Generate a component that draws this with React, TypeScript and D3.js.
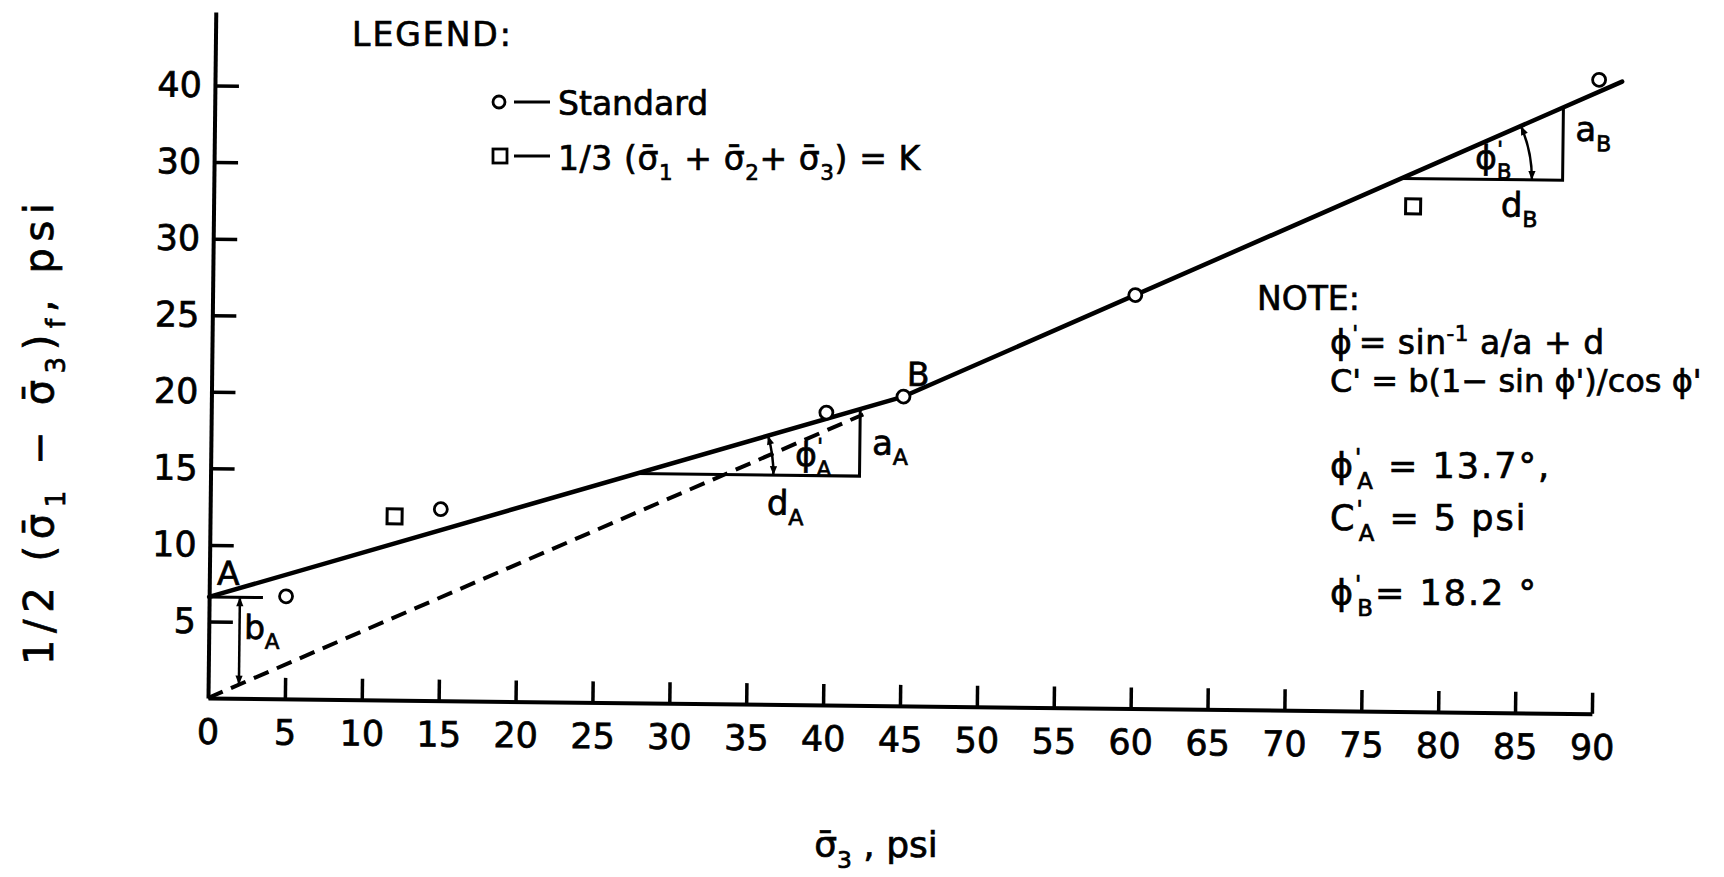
import { useEffect, useRef } from "react"
import * as d3 from "d3"

// axis ticks (the scan labels the 35 tick "30")
const xTicks = [0, 5, 10, 15, 20, 25, 30, 35, 40, 45, 50, 55, 60, 65, 70, 75, 80, 85, 90]
const yTicks = [5, 10, 15, 20, 25, 30, 35, 40]
const yTickLabels = ["5", "10", "15", "20", "25", "30", "30", "40"]

// test points
const standardX = [5, 15, 40, 45, 60, 90]
const standardY = [6.7, 12.5, 19.1, 20.2, 27, 41.4]
const constKX = [12, 78]
const constKY = [12, 33]

// failure envelopes
const envelopeAX = [0, 45]
const envelopeAY = [6.6, 20.2]
const envelopeBX = [45, 91.5]
const envelopeBY = [20.2, 41.3]
const dashedX = [0, 42.4]
const dashedY = [0, 19.0]

// construction triangles (x of left / right corner) and arc radius, in psi
const triangleA = [27.7, 42.2]
const triangleB = [77.2, 87.7]
const arcRadius = [8.9, 8.5]
const bArrowX = 2
const bLineEnd = 3.5

type Part = { t: string; sub?: boolean; sup?: boolean; dx?: number }

function richText(sel: any, parts: Part[], size: number) {
  let shift = 0
  parts.forEach((p) => {
    const target = p.sub ? size * 0.3 : p.sup ? -size * 0.38 : 0
    const ts = sel
      .append("tspan")
      .attr("dy", target - shift)
      .attr("font-size", p.sub || p.sup ? size * 0.65 : size)
      .text(p.t)
    if (p.dx) ts.attr("dx", p.dx)
    shift = target
  })
}

export default function App() {
  const svgRef = useRef<SVGSVGElement>(null)

  useEffect(() => {
    if (!svgRef.current) return
    const svg = d3.select(svgRef.current)
    svg.selectAll("*").remove()

    const width = 1724
    const height = 877
    const font = "'DejaVu Sans', sans-serif"

    const x = d3.scaleLinear().domain([0, 90]).range([208, 1592])
    const y = d3.scaleLinear().domain([0, 44.8]).range([698, 12])

    svg.append("style").text("text{fill:#000;stroke:#000;stroke-width:0.7px;}")
    svg.append("rect").attr("width", width).attr("height", height).attr("fill", "#fff")

    const defs = svg.append("defs")
    defs
      .append("marker")
      .attr("id", "arrow")
      .attr("viewBox", "0 -5 10 10")
      .attr("refX", 10)
      .attr("refY", 0)
      .attr("markerWidth", 11)
      .attr("markerHeight", 9)
      .attr("markerUnits", "userSpaceOnUse")
      .attr("orient", "auto-start-reverse")
      .append("path")
      .attr("d", "M0,-4L10,0L0,4Z")
      .attr("fill", "#000")

    // the scanned plot is slightly skewed
    const g = svg
      .append("g")
      .attr("transform", `rotate(0.65, ${x(0)}, ${y(0)})`)

    // axes
    const yAxis = g
      .append("g")
      .attr("transform", `translate(${x(0)},0)`)
      .call(
        d3
          .axisLeft(y)
          .tickValues(yTicks)
          .tickFormat((d, i) => yTickLabels[i])
          .tickSizeInner(-24)
          .tickSizeOuter(0)
          .tickPadding(13),
      )
    yAxis.attr("font-size", 35).attr("font-family", font)
    yAxis.select(".domain").attr("stroke-width", 4).attr("stroke", "#000")
    yAxis.selectAll(".tick line").attr("stroke-width", 3.5).attr("stroke", "#000")

    const xAxis = g
      .append("g")
      .attr("transform", `translate(0,${y(0)})`)
      .call(
        d3
          .axisBottom(x)
          .tickValues(xTicks)
          .tickFormat((d) => String(d))
          .tickSizeInner(-21)
          .tickSizeOuter(0)
          .tickPadding(21),
      )
    xAxis.attr("font-size", 35).attr("font-family", font)
    xAxis.select(".domain").attr("stroke-width", 4).attr("stroke", "#000")
    xAxis.selectAll(".tick line").attr("stroke-width", 3.5).attr("stroke", "#000")
    xAxis.selectAll(".tick").filter((d) => d === 0).select("line").remove()

    const line = d3
      .line<[number, number]>()
      .x((d) => x(d[0]))
      .y((d) => y(d[1]))

    const lineA = d3.scaleLinear().domain(envelopeAX).range(envelopeAY)
    const lineB = d3.scaleLinear().domain(envelopeBX).range(envelopeBY)
    const dashed = d3.scaleLinear().domain(dashedX).range(dashedY)

    // dashed envelope through origin
    g.append("path")
      .datum(d3.zip(dashedX, dashedY) as [number, number][])
      .attr("d", line)
      .attr("fill", "none")
      .attr("stroke", "#000")
      .attr("stroke-width", 4)
      .attr("stroke-dasharray", "16,9")

    // solid envelopes
    ;[d3.zip(envelopeAX, envelopeAY), d3.zip(envelopeBX, envelopeBY)].forEach((pts) => {
      g.append("path")
        .datum(pts as [number, number][])
        .attr("d", line)
        .attr("fill", "none")
        .attr("stroke", "#000")
        .attr("stroke-width", 4.5)
        .attr("stroke-linecap", "round")
    })

    // construction triangles and angle arcs
    const triangles = [
      { xs: triangleA, f: lineA, r: arcRadius[0] },
      { xs: triangleB, f: lineB, r: arcRadius[1] },
    ]
    triangles.forEach(({ xs, f, r }) => {
      const [x0, x1] = xs
      g.append("path")
        .datum([
          [x0, f(x0)],
          [x1, f(x0)],
          [x1, f(x1)],
        ] as [number, number][])
        .attr("d", line)
        .attr("fill", "none")
        .attr("stroke", "#000")
        .attr("stroke-width", 3)

      const cx = x(x0)
      const cy = y(f(x0))
      const ang = Math.atan2(cy - y(f(x1)), x(x1) - cx)
      const p = d3.path()
      p.arc(cx, cy, x(r) - x(0), -ang, 0, false)
      g.append("path")
        .attr("d", p.toString())
        .attr("fill", "none")
        .attr("stroke", "#000")
        .attr("stroke-width", 2.5)
        .attr("marker-start", "url(#arrow)")
        .attr("marker-end", "url(#arrow)")
    })

    // intercept b_A
    g.append("path")
      .datum([
        [0, lineA(0)],
        [bLineEnd, lineA(0)],
      ] as [number, number][])
      .attr("d", line)
      .attr("stroke", "#000")
      .attr("stroke-width", 3)
    g.append("path")
      .datum([
        [bArrowX, lineA(0)],
        [bArrowX, dashed(bArrowX)],
      ] as [number, number][])
      .attr("d", line)
      .attr("stroke", "#000")
      .attr("stroke-width", 2.5)
      .attr("marker-start", "url(#arrow)")
      .attr("marker-end", "url(#arrow)")

    // points
    g.selectAll(".std")
      .data(d3.zip(standardX, standardY))
      .enter()
      .append("circle")
      .attr("class", "std")
      .attr("cx", (d) => x(d[0]))
      .attr("cy", (d) => y(d[1]))
      .attr("r", 6.5)
      .attr("fill", "#fff")
      .attr("stroke", "#000")
      .attr("stroke-width", 2.8)

    g.selectAll(".kpt")
      .data(d3.zip(constKX, constKY))
      .enter()
      .append("rect")
      .attr("class", "kpt")
      .attr("x", (d) => x(d[0]) - 7.5)
      .attr("y", (d) => y(d[1]) - 7.5)
      .attr("width", 15)
      .attr("height", 15)
      .attr("fill", "#fff")
      .attr("stroke", "#000")
      .attr("stroke-width", 3)

    // annotations placed in data units
    const notes: { at: [number, number]; parts: Part[]; size: number }[] = [
      { at: [0.5, 7.4], parts: [{ t: "A" }], size: 33 },
      { at: [45.2, 20.9], parts: [{ t: "B" }], size: 33 },
      { at: [2.3, 3.9], parts: [{ t: "b" }, { t: "A", sub: true }], size: 33 },
      { at: [38.0, 15.6], parts: [{ t: "ϕ" }, { t: "'", sup: true }, { t: "A", sub: true, dx: -6 }], size: 33 },
      { at: [43.0, 16.4], parts: [{ t: "a" }, { t: "A", sub: true }], size: 34 },
      { at: [36.2, 12.4], parts: [{ t: "d" }, { t: "A", sub: true }], size: 34 },
      { at: [82.0, 35.5], parts: [{ t: "ϕ" }, { t: "'", sup: true }, { t: "B", sub: true, dx: -6 }], size: 33 },
      { at: [88.5, 37.4], parts: [{ t: "a" }, { t: "B", sub: true }], size: 34 },
      { at: [83.7, 32.4], parts: [{ t: "d" }, { t: "B", sub: true }], size: 34 },
    ]
    notes.forEach((n) => {
      const t = g
        .append("text")
        .attr("x", x(n.at[0]))
        .attr("y", y(n.at[1]))
        .attr("font-family", font)
      richText(t, n.parts, n.size)
    })

    // axis titles
    const yTitle = svg
      .append("text")
      .attr("transform", "translate(53,434) rotate(-90)")
      .attr("text-anchor", "middle")
      .attr("font-family", font)
      .attr("textLength", 462)
      .attr("lengthAdjust", "spacing")
    richText(
      yTitle,
      [
        { t: "1/2 (σ̄" },
        { t: "1", sub: true },
        { t: " − σ̄" },
        { t: "3", sub: true },
        { t: ")" },
        { t: "f", sub: true },
        { t: ", psi" },
      ],
      40,
    )

    const xTitle = svg
      .append("text")
      .attr("x", 876)
      .attr("y", 857)
      .attr("text-anchor", "middle")
      .attr("font-family", font)
    richText(xTitle, [{ t: "σ̄" }, { t: "3", sub: true }, { t: " , psi" }], 36)

    // legend
    const lg = svg.append("g").attr("font-family", font)
    lg.append("text").attr("x", 352).attr("y", 46).attr("font-size", 33).attr("letter-spacing", 2).text("LEGEND:")
    lg.append("circle").attr("cx", 499).attr("cy", 102).attr("r", 6).attr("fill", "#fff").attr("stroke", "#000").attr("stroke-width", 2.8)
    lg.append("rect").attr("x", 493).attr("y", 149).attr("width", 14).attr("height", 14).attr("fill", "#fff").attr("stroke", "#000").attr("stroke-width", 2.8)
    ;[102, 156].forEach((yy) => {
      lg.append("line").attr("x1", 514).attr("x2", 550).attr("y1", yy).attr("y2", yy).attr("stroke", "#000").attr("stroke-width", 3)
    })
    lg.append("text").attr("x", 558).attr("y", 115).attr("font-size", 33).text("Standard")
    richText(
      lg.append("text").attr("x", 558).attr("y", 170).attr("letter-spacing", 0.6),
      [
        { t: "1/3 (σ̄" },
        { t: "1", sub: true },
        { t: " + σ̄" },
        { t: "2", sub: true },
        { t: "+ σ̄" },
        { t: "3", sub: true },
        { t: ") = K" },
      ],
      33,
    )

    // note block
    const nb = svg.append("g").attr("font-family", font)
    nb.append("text").attr("x", 1257).attr("y", 310).attr("font-size", 33).text("NOTE:")
    const noteLines: { y: number; parts: Part[]; size: number; ls: number }[] = [
      { y: 354, size: 33, ls: 0.5, parts: [{ t: "ϕ" }, { t: "'", sup: true }, { t: "= sin" }, { t: "-1", sup: true }, { t: "  a/a + d" }] },
      { y: 392, size: 32, ls: 0, parts: [{ t: "C' = b(1− sin ϕ')/cos ϕ'" }] },
      { y: 478, size: 35, ls: 2, parts: [{ t: "ϕ" }, { t: "'", sup: true }, { t: "A", sub: true, dx: -6 }, { t: " = 13.7°," }] },
      { y: 530, size: 35, ls: 2, parts: [{ t: "C" }, { t: "'", sup: true }, { t: "A", sub: true, dx: -6 }, { t: " = 5 psi" }] },
      { y: 605, size: 35, ls: 2, parts: [{ t: "ϕ" }, { t: "'", sup: true }, { t: "B", sub: true, dx: -6 }, { t: "= 18.2 °" }] },
    ]
    noteLines.forEach((l) => {
      richText(nb.append("text").attr("x", 1330).attr("y", l.y).attr("letter-spacing", l.ls), l.parts, l.size)
    })

    svg
      .attr("width", width)
      .attr("height", height)
      .attr("viewBox", [0, 0, width, height])
  }, [])

  return <svg ref={svgRef} style={{ position: "absolute", left: 0, top: 0 }}></svg>
}
